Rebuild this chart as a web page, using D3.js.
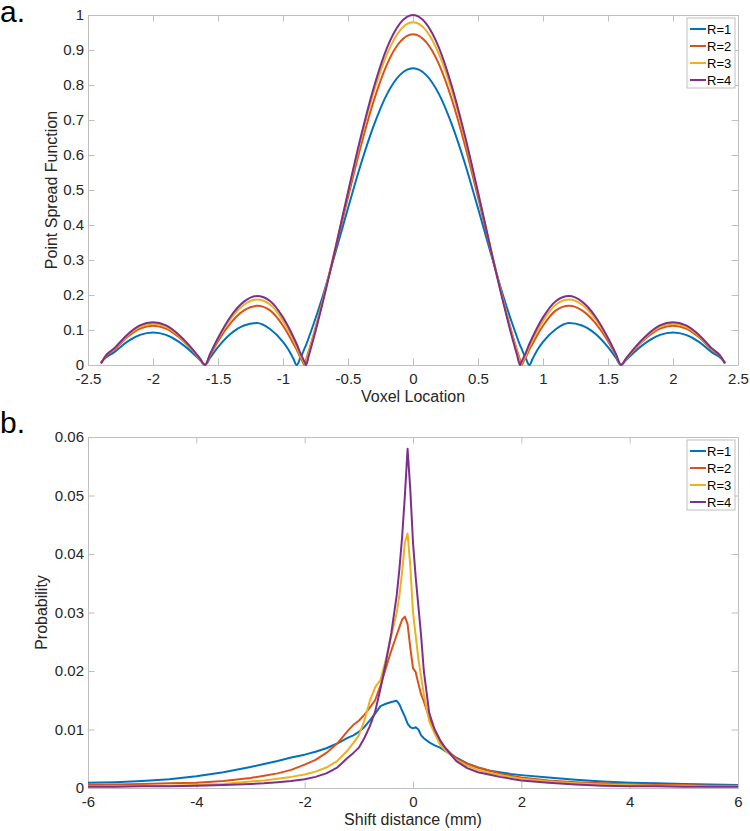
<!DOCTYPE html>
<html>
<head>
<meta charset="utf-8">
<script src="https://cdn.jsdelivr.net/npm/d3@7"></script>
<style>
  html, body { margin: 0; padding: 0; background: #fff; }
  svg { display: block; font-family: "Liberation Sans", Arial, Helvetica, sans-serif; }
</style>
</head>
<body>
<svg id="chart" width="750" height="831"></svg>
<script>
// ---------- Panel a: Point Spread Function ----------
const voxelLocation = [-2.4,-2.36,-2.3,-2.2,-2.1,-2.0,-1.9,-1.8,-1.7,-1.64,-1.6,-1.56,-1.5,-1.4,-1.3,-1.2,-1.1,-1.0,-0.96,-0.92,-0.895,-0.87,-0.85,-0.836,-0.83,-0.823,-0.8,-0.76,-0.7,-0.6,-0.5,-0.4,-0.3,-0.2,-0.1,0,0.1,0.2,0.3,0.4,0.5,0.6,0.7,0.76,0.8,0.823,0.83,0.836,0.85,0.87,0.895,0.92,0.96,1.0,1.1,1.2,1.3,1.4,1.5,1.56,1.6,1.64,1.7,1.8,1.9,2.0,2.1,2.2,2.3,2.36,2.4];

const psfR1 = [0.008,0.022,0.036,0.066,0.086,0.093,0.086,0.066,0.036,0.015,0,0.021,0.051,0.090,0.113,0.120,0.103,0.066,0.045,0.018,0,0.017,0.033,0.046,0.051,0.057,0.080,0.122,0.190,0.317,0.448,0.575,0.686,0.774,0.829,
  0.848,
  0.829,0.774,0.686,0.575,0.448,0.317,0.190,0.122,0.080,0.057,0.051,0.046,0.033,0.017,0,0.018,0.045,0.066,0.103,0.120,0.113,0.090,0.051,0.021,0,0.015,0.036,0.066,0.086,0.093,0.086,0.066,0.036,0.022,0.008];

const psfR2 = [0.005,0.026,0.043,0.079,0.104,0.112,0.104,0.079,0.043,0.018,0,0.028,0.068,0.121,0.156,0.169,0.156,0.112,0.088,0.061,0.044,0.024,0.010,0,0.007,0.015,0.042,0.093,0.176,0.325,0.479,0.627,0.757,0.859,0.923,
  0.945,
  0.923,0.859,0.757,0.627,0.479,0.325,0.176,0.093,0.042,0.015,0.007,0,0.010,0.024,0.044,0.061,0.088,0.112,0.156,0.169,0.156,0.121,0.068,0.028,0,0.018,0.043,0.079,0.104,0.112,0.104,0.079,0.043,0.026,0.005];

const psfR3 = [0.004,0.028,0.045,0.083,0.109,0.118,0.109,0.083,0.045,0.018,0,0.030,0.075,0.133,0.172,0.187,0.173,0.126,0.100,0.071,0.052,0.030,0.015,0.005,0,0.008,0.037,0.089,0.175,0.330,0.491,0.646,0.782,0.888,0.956,
  0.979,
  0.956,0.888,0.782,0.646,0.491,0.330,0.175,0.089,0.037,0.008,0,0.005,0.015,0.030,0.052,0.071,0.100,0.126,0.173,0.187,0.172,0.133,0.075,0.030,0,0.018,0.045,0.083,0.109,0.118,0.109,0.083,0.045,0.028,0.004];

const psfR4 = [0.004,0.028,0.047,0.086,0.113,0.122,0.113,0.086,0.047,0.019,0,0.032,0.077,0.140,0.181,0.197,0.183,0.136,0.110,0.080,0.060,0.037,0.021,0.010,0.006,0,0.029,0.082,0.170,0.328,0.494,0.654,0.795,0.906,0.976,
  1.000,
  0.976,0.906,0.795,0.654,0.494,0.328,0.170,0.082,0.029,0,0.006,0.010,0.021,0.037,0.060,0.080,0.110,0.136,0.183,0.197,0.181,0.140,0.077,0.032,0,0.019,0.047,0.086,0.113,0.122,0.113,0.086,0.047,0.028,0.004];

const xTicksA = [-2.5,-2,-1.5,-1,-0.5,0,0.5,1,1.5,2,2.5];
const yTicksA = [0,0.1,0.2,0.3,0.4,0.5,0.6,0.7,0.8,0.9,1];

// ---------- Panel b: Probability of shift distance ----------
const shiftDistance = [-6,-5.5,-5,-4.5,-4,-3.5,-3,-2.75,-2.5,-2.25,-2,-1.8,-1.6,-1.4,-1.2,-1.1,-1,-0.9,-0.8,-0.7,-0.6,-0.5,-0.4,-0.3,-0.25,-0.2,-0.15,-0.1,-0.05,0,0.05,0.1,0.15,0.2,0.3,0.4,0.5,0.6,0.8,1,1.2,1.4,1.6,1.8,2,2.5,3,3.5,4,4.5,5,5.5,6];

const probR1 = [0.0009,0.0010,0.0012,0.0015,0.0020,0.0027,0.0036,0.0041,0.0046,0.0052,0.0057,0.0062,0.0068,0.0076,0.0086,0.0090,0.0096,0.0104,0.0115,0.0127,0.0140,0.0144,0.0147,0.0149,0.0143,0.0132,0.0122,0.0110,0.0104,0.0102,0.0104,0.0100,0.0090,0.0085,0.0078,0.0073,0.0069,0.0063,0.0052,0.0042,0.0035,0.0030,0.0027,0.0024,0.0022,0.0018,0.0014,0.0011,0.0009,0.0008,0.0007,0.0006,0.0005];
const probR2 = [0.0005,0.0006,0.0007,0.0008,0.0009,0.0012,0.0017,0.0021,0.0025,0.0031,0.0040,0.0048,0.0060,0.0076,0.0098,0.0108,0.0115,0.0125,0.0137,0.0150,0.0175,0.0205,0.0235,0.0262,0.0275,0.0288,0.0293,0.0280,0.0240,0.0205,0.0198,0.0178,0.0160,0.0148,0.0120,0.0096,0.0078,0.0068,0.0050,0.0041,0.0035,0.0030,0.0025,0.0021,0.0018,0.0013,0.0010,0.0008,0.0006,0.0005,0.0005,0.0004,0.0004];
const probR3 = [0.0003,0.0003,0.0004,0.0004,0.0005,0.0007,0.0011,0.0013,0.0016,0.0019,0.0023,0.0028,0.0035,0.0046,0.0065,0.0077,0.0090,0.0115,0.0148,0.0172,0.0185,0.0220,0.0260,0.0300,0.0330,0.0370,0.0420,0.0435,0.0380,0.0300,0.0260,0.0220,0.0190,0.0160,0.0114,0.0093,0.0074,0.0064,0.0048,0.0038,0.0031,0.0026,0.0022,0.0019,0.0016,0.0011,0.0008,0.0006,0.0005,0.0004,0.0004,0.0003,0.0003];
const probR4 = [0.0002,0.0002,0.0003,0.0003,0.0004,0.0005,0.0007,0.0008,0.0010,0.0012,0.0015,0.0019,0.0025,0.0035,0.0052,0.0060,0.0069,0.0085,0.0105,0.0130,0.0170,0.0215,0.0265,0.0330,0.0375,0.0430,0.0500,0.0580,0.0510,0.0420,0.0360,0.0310,0.0260,0.0200,0.0128,0.0100,0.0082,0.0068,0.0046,0.0034,0.0027,0.0023,0.0019,0.0016,0.0013,0.0009,0.0006,0.0004,0.0003,0.0003,0.0002,0.0002,0.0002];

const xTicksB = [-6,-4,-2,0,2,4,6];
const yTicksB = [0,0.01,0.02,0.03,0.04,0.05,0.06];

const seriesNames = ["R=1","R=2","R=3","R=4"];
const seriesColors = ["#0072BD","#D95319","#EDB120","#7E2F8E"];

// ---------- drawing ----------
const svg = d3.select("#chart");
const AXIS_COLOR = "#bfbfbf";
const TEXT_COLOR = "#262626";

function drawPanel(cfg) {
  const { top, bottom, left, right, xDomain, yDomain, xTicks, yTicks, xs, ys, curve, xLabel, yLabel, yLabelX, panelLabel, panelLabelY, legendTop } = cfg;
  const x = d3.scaleLinear().domain(xDomain).range([left, right]);
  const y = d3.scaleLinear().domain(yDomain).range([bottom, top]);
  const g = svg.append("g");
  const tick = 6.5;

  const fmt = v => String(v);

  const ax = [
    { a: d3.axisBottom(x).tickValues(xTicks).tickFormat(fmt), t: `translate(0,${bottom})`, pad: 8 },
    { a: d3.axisTop(x).tickValues(xTicks).tickFormat(""), t: `translate(0,${top})`, pad: 4 },
    { a: d3.axisLeft(y).tickValues(yTicks).tickFormat(fmt), t: `translate(${left},0)`, pad: 4 },
    { a: d3.axisRight(y).tickValues(yTicks).tickFormat(""), t: `translate(${right},0)`, pad: 4 }
  ];
  ax.forEach(o => {
    const sel = g.append("g").attr("transform", o.t)
      .call(o.a.tickSizeInner(-tick).tickSizeOuter(0).tickPadding(o.pad));
    sel.select(".domain").attr("stroke", AXIS_COLOR).attr("stroke-width", 1);
    sel.selectAll(".tick line").attr("stroke", AXIS_COLOR).attr("stroke-width", 1);
    sel.selectAll(".tick text").attr("fill", TEXT_COLOR).attr("font-size", 15)
      .attr("font-family", '"Liberation Sans", Arial, sans-serif');
  });

  const line = d3.line().x((d, i) => x(xs[i])).y(d => y(d)).curve(curve);
  ys.forEach((arr, k) => {
    g.append("path").datum(arr)
      .attr("fill", "none")
      .attr("stroke", seriesColors[k])
      .attr("stroke-width", 2)
      .attr("stroke-linejoin", "round")
      .attr("d", line);
  });

  g.append("text").attr("x", (left + right) / 2).attr("y", bottom + 37)
    .attr("text-anchor", "middle").attr("font-size", 16).attr("fill", TEXT_COLOR).text(xLabel);
  g.append("text").attr("transform", `translate(${yLabelX},${(top + bottom) / 2}) rotate(-90)`)
    .attr("text-anchor", "middle").attr("font-size", 16).attr("fill", TEXT_COLOR).text(yLabel);
  g.append("text").attr("x", 0).attr("y", panelLabelY)
    .attr("font-size", 30).attr("fill", "#000").text(panelLabel);

  // legend
  const lx = 687, lw = 48, rowH = 17, lh = rowH * 4 + 2;
  const lg = g.append("g").attr("transform", `translate(${lx},${legendTop})`);
  lg.append("rect").attr("x", 0).attr("y", 0).attr("width", lw).attr("height", lh)
    .attr("fill", "#fff").attr("stroke", AXIS_COLOR).attr("stroke-width", 1);
  seriesNames.forEach((n, k) => {
    const cy = 11 + k * rowH;
    lg.append("line").attr("x1", 3).attr("x2", 19).attr("y1", cy).attr("y2", cy)
      .attr("stroke", seriesColors[k]).attr("stroke-width", 2);
    lg.append("text").attr("x", 20).attr("y", cy + 4.5).attr("font-size", 13)
      .attr("fill", "#000").text(n);
  });
}

drawPanel({
  top: 15, bottom: 365, left: 88, right: 738,
  xDomain: [-2.5, 2.5], yDomain: [0, 1],
  xTicks: xTicksA, yTicks: yTicksA,
  xs: voxelLocation, ys: [psfR1, psfR2, psfR3, psfR4],
  curve: d3.curveMonotoneX,
  xLabel: "Voxel Location", yLabel: "Point Spread Function", yLabelX: 57,
  panelLabel: "a.", panelLabelY: 22, legendTop: 18
});

drawPanel({
  top: 437, bottom: 788, left: 88, right: 738,
  xDomain: [-6, 6], yDomain: [0, 0.06],
  xTicks: xTicksB, yTicks: yTicksB,
  xs: shiftDistance, ys: [probR1, probR2, probR3, probR4],
  curve: d3.curveLinear,
  xLabel: "Shift distance (mm)", yLabel: "Probability", yLabelX: 47,
  panelLabel: "b.", panelLabelY: 433, legendTop: 440
});
</script>
</body>
</html>
